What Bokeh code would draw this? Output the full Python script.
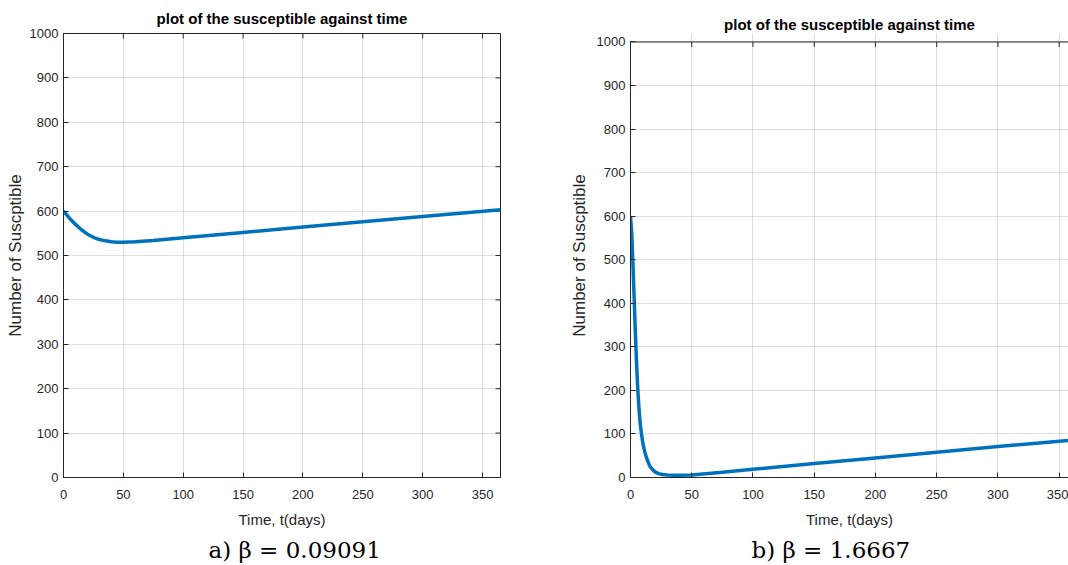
import math
from bokeh.plotting import figure
from bokeh.layouts import row
from bokeh.models import FixedTicker, Title, Range1d, Span
from bokeh.embed import file_html
from bokeh.resources import INLINE

# ---- data ----
t_a = [0, 5, 10, 15, 20, 25, 30, 35, 40, 45, 50, 60, 75, 100, 150, 200, 250, 300, 365]
s_a = [600, 584, 570, 558, 548, 541, 536, 533, 531, 530, 530, 531, 534, 540, 552, 564, 576, 588, 603]

t_b = [0, 1, 2, 3, 4, 5, 6, 7, 8, 9, 10, 11, 12, 14, 16, 18, 20, 23, 26, 30, 35, 40, 50, 75, 100, 150, 200, 250, 300, 365]
s_b = [600, 560, 490, 410, 330, 260, 200, 155, 122, 100, 80, 67, 55, 38, 25, 18, 13, 9, 7, 6, 5, 5, 6, 12, 19, 32, 45, 58, 71, 87]

x_ticks = [0, 50, 100, 150, 200, 250, 300, 350]
y_ticks = [0, 100, 200, 300, 400, 500, 600, 700, 800, 900, 1000]

title_text = "plot of the susceptible against time"
x_label = "Time, t(days)"
y_label = "Number of Suscptible"
caption_a = "a) β  =  0.09091"
caption_b = "b) β  =  1.6667"

AX = "#262626"
LINE = "#0072BD"
FONT = "Liberation Sans"

TOP = 33
FH = 444
BOTTOM = 565 - TOP - FH


def style_axis(ax):
    ax.axis_line_color = AX
    ax.major_tick_line_color = AX
    ax.minor_tick_line_color = None
    ax.major_tick_in = 5
    ax.major_tick_out = 0
    ax.major_label_text_font = FONT
    ax.major_label_text_font_size = "13px"
    ax.major_label_text_color = AX
    ax.axis_label_text_font = FONT
    ax.axis_label_text_font_style = "normal"
    ax.axis_label_text_color = AX


def make(t, s, caption, left, fw, right, xmax, ytop, box, cap_offset,
         title_standoff, ylab_standoff):
    ymax = y_ticks[-1]
    p = figure(frame_width=fw, frame_height=FH,
               min_border_left=left, min_border_top=TOP,
               min_border_right=right, min_border_bottom=BOTTOM,
               x_range=Range1d(0, xmax), y_range=Range1d(0, ytop),
               output_backend="svg", toolbar_location=None,
               background_fill_color="white", border_fill_color="white")
    p.title.text = title_text
    p.title.align = "center"
    p.title.text_font = FONT
    p.title.text_font_size = "15px"
    p.title.text_font_style = "bold"
    p.title.text_color = "black"
    p.title.standoff = title_standoff

    p.xaxis.ticker = FixedTicker(ticks=x_ticks)
    p.yaxis.ticker = FixedTicker(ticks=y_ticks)
    p.yaxis.bounds = (0, ymax)
    style_axis(p.xaxis[0])
    style_axis(p.yaxis[0])
    p.xaxis.axis_label = x_label
    p.yaxis.axis_label = y_label
    p.xaxis.axis_label_text_font_size = "15px"
    p.yaxis.axis_label_text_font_size = "17px"
    p.xaxis.major_label_standoff = 12
    p.xaxis.axis_label_standoff = 9
    p.yaxis.major_label_standoff = 5
    p.yaxis.axis_label_standoff = ylab_standoff

    # inward box tick marks along the top (and right) edges
    tick_len = 5 * ytop / FH
    p.segment(x0=x_ticks, y0=[ymax] * len(x_ticks), x1=x_ticks,
              y1=[ymax - tick_len] * len(x_ticks), line_color=AX, line_width=1)
    if box:
        p.scatter([xmax] * len(y_ticks), y_ticks, marker="dash", angle=0,
                  size=10, line_color=AX, line_width=1)
        p.outline_line_color = AX
    else:
        p.outline_line_color = None
        p.add_layout(Span(location=ymax, dimension="width", line_color=AX, line_width=1))

    p.grid.grid_line_color = AX
    p.grid.grid_line_alpha = 0.15
    p.grid.grid_line_width = 1

    p.line(t, s, line_color=LINE, line_width=3.5)

    cap = Title(text=caption, align="left", offset=cap_offset,
                text_font="DejaVu Serif", text_font_size="23px",
                text_font_style="normal", text_color="black", standoff=9)
    p.add_layout(cap, "below")
    return p


p1 = make(t_a, s_a, caption_a, left=63, fw=437, right=34, xmax=365, ytop=1000,
          box=True, cap_offset=145, title_standoff=14, ylab_standoff=2)
# right panel: its box top (1000) sits 8.5 px lower than the left one
p2 = make(t_b, s_b, caption_b, left=96, fw=438, right=0, xmax=357.6, ytop=1019.5,
          box=False, cap_offset=121, title_standoff=1, ylab_standoff=5)

layout = row(p1, p2)
open("out.html", "w").write(file_html(layout, INLINE))
